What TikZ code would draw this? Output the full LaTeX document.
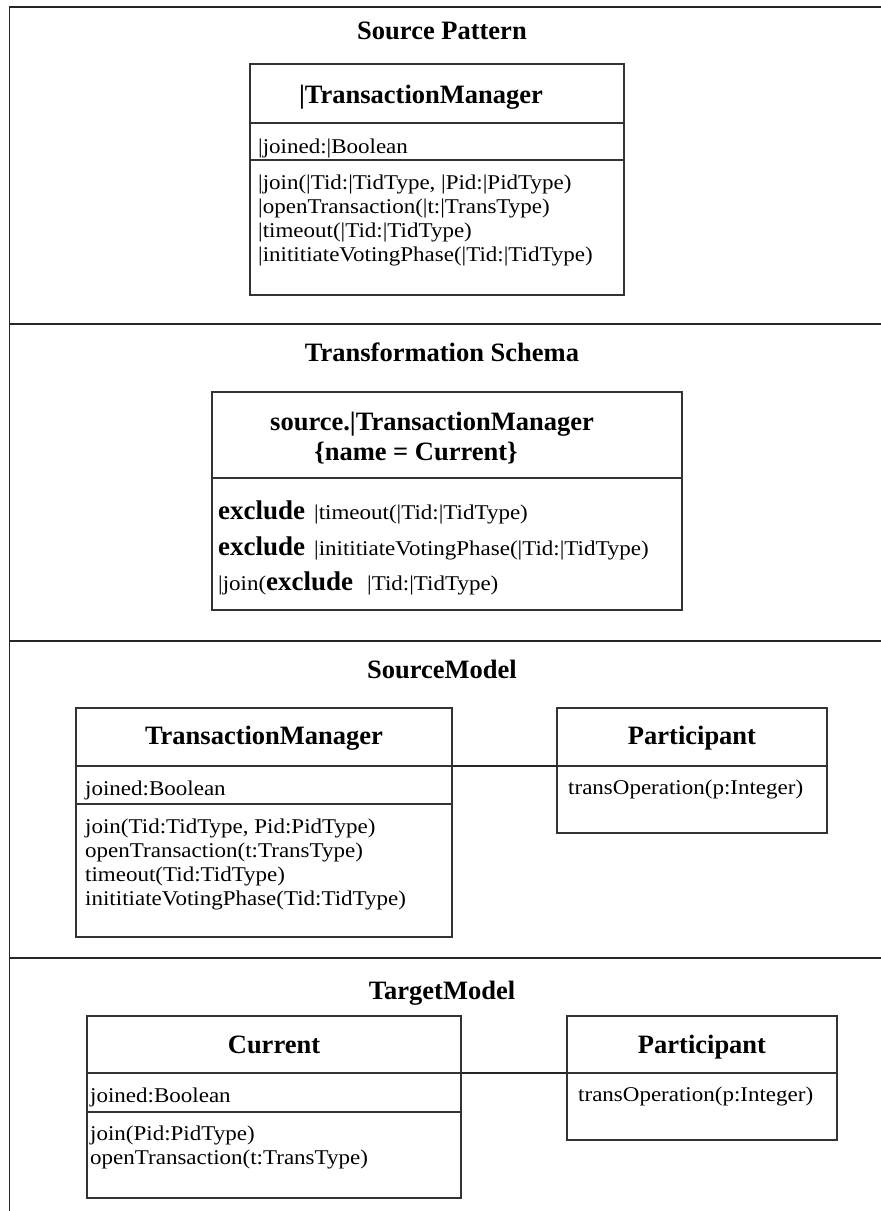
\documentclass[tikz,border=0pt]{standalone}
\usepackage{fontspec}
\setmainfont{Liberation Serif}
\newfontfamily\memberfamily[FakeStretch=1.095]{Liberation Serif}
\newcommand{\memfont}{\memberfamily\fontsize{21}{24}\selectfont}
\newcommand{\ttlfont}{\rmfamily\fontsize{26.5}{30}\selectfont\bfseries}
\newcommand{\kwfont}{\rmfamily\fontsize{27}{30}\selectfont\bfseries}

\tikzset{
  frameline/.style={draw=black!85, line width=1.5pt},
  compart/.style={draw=black!80, line width=1.2pt, inner sep=0pt, outer sep=0pt, anchor=north west},
  sectitle/.style={font=\ttlfont, inner sep=0pt, anchor=base},
  boxtitle/.style={font=\ttlfont, inner sep=0pt, anchor=base},
  member/.style={font=\memfont, inner sep=0pt, anchor=base west},
  assoc/.style={draw=black!85, line width=1.2pt},
}

\begin{document}
\begin{tikzpicture}[x=1pt, y=-1pt]
\useasboundingbox (0,0) rectangle (881,1211);

% page frame and section dividers
\draw[frameline] (9.5,1211) -- (9.5,7) -- (881,7);
\draw[frameline] (9.5,324) -- (881,324);
\draw[frameline] (9.5,641) -- (881,641);
\draw[frameline] (9.5,958) -- (881,958);

% ---------------- Source Pattern ----------------
\node[sectitle] (t-sp) at (442,39) {Source Pattern};

\node[compart, minimum width=374pt, minimum height=59pt]  (sp-head) at (250,64)  {};
\node[compart, minimum width=374pt, minimum height=37pt]  (sp-attr) at (250,123) {};
\node[compart, minimum width=374pt, minimum height=135pt] (sp-ops)  at (250,160) {};
\node[boxtitle] (sp-name) at (421,103) {|TransactionManager};
\node[member] (sp-a1) at (258,153) {|joined:|Boolean};
\node[member] (sp-o1) at (258,189) {|join(|Tid:|TidType, |Pid:|PidType)};
\node[member] (sp-o2) at (258,213) {|openTransaction(|t:|TransType)};
\node[member] (sp-o3) at (258,237) {|timeout(|Tid:|TidType)};
\node[member] (sp-o4) at (258,261) {|inititiateVotingPhase(|Tid:|TidType)};

% ---------------- Transformation Schema ----------------
\node[sectitle] (t-ts) at (442,361) {Transformation Schema};

\node[compart, minimum width=470pt, minimum height=86pt]  (ts-head) at (212,392) {};
\node[compart, minimum width=470pt, minimum height=132pt] (ts-body) at (212,478) {};
\node[boxtitle] (ts-name1) at (432,430) {source.|TransactionManager};
\node[boxtitle] (ts-name2) at (416,460) {\{name = Current\}};
\node[member] (ts-r1) at (218,519) {{\kwfont exclude}\hspace{9pt}|timeout(|Tid:|TidType)};
\node[member] (ts-r2) at (218,555) {{\kwfont exclude}\hspace{9pt}|inititiateVotingPhase(|Tid:|TidType)};
\node[member] (ts-r3) at (218,590) {|join({\kwfont exclude}\hspace{14pt}|Tid:|TidType)};

% ---------------- SourceModel ----------------
\node[sectitle] (t-sm) at (442,678) {SourceModel};

\node[compart, minimum width=376pt, minimum height=58pt]  (sm-tm-head) at (76,708) {};
\node[compart, minimum width=376pt, minimum height=38pt]  (sm-tm-attr) at (76,766) {};
\node[compart, minimum width=376pt, minimum height=133pt] (sm-tm-ops)  at (76,804) {};
\node[boxtitle] (sm-tm-name) at (264,744) {TransactionManager};
\node[member] (sm-tm-a1) at (85,795) {joined:Boolean};
\node[member] (sm-tm-o1) at (85,833) {join(Tid:TidType, Pid:PidType)};
\node[member] (sm-tm-o2) at (85,857) {openTransaction(t:TransType)};
\node[member] (sm-tm-o3) at (85,881) {timeout(Tid:TidType)};
\node[member] (sm-tm-o4) at (85,905) {inititiateVotingPhase(Tid:TidType)};

\node[compart, minimum width=270pt, minimum height=58pt] (sm-pt-head) at (557,708) {};
\node[compart, minimum width=270pt, minimum height=67pt] (sm-pt-body) at (557,766) {};
\node[boxtitle] (sm-pt-name) at (692,744) {Participant};
\node[member] (sm-pt-o1) at (568,794) {transOperation(p:Integer)};

\draw[assoc] (sm-tm-head.south east) -- (sm-pt-head.south west);

% ---------------- TargetModel ----------------
\node[sectitle] (t-tm) at (442,999) {TargetModel};

\node[compart, minimum width=374pt, minimum height=57pt] (tm-cu-head) at (87,1016) {};
\node[compart, minimum width=374pt, minimum height=39pt] (tm-cu-attr) at (87,1073) {};
\node[compart, minimum width=374pt, minimum height=86pt] (tm-cu-ops)  at (87,1112) {};
\node[boxtitle] (tm-cu-name) at (274,1053) {Current};
\node[member] (tm-cu-a1) at (90,1102) {joined:Boolean};
\node[member] (tm-cu-o1) at (90,1140) {join(Pid:PidType)};
\node[member] (tm-cu-o2) at (90,1164) {openTransaction(t:TransType)};

\node[compart, minimum width=270pt, minimum height=57pt] (tm-pt-head) at (567,1016) {};
\node[compart, minimum width=270pt, minimum height=67pt] (tm-pt-body) at (567,1073) {};
\node[boxtitle] (tm-pt-name) at (702,1053) {Participant};
\node[member] (tm-pt-o1) at (578,1101) {transOperation(p:Integer)};

\draw[assoc] (tm-cu-head.south east) -- (tm-pt-head.south west);
\end{tikzpicture}
\end{document}
